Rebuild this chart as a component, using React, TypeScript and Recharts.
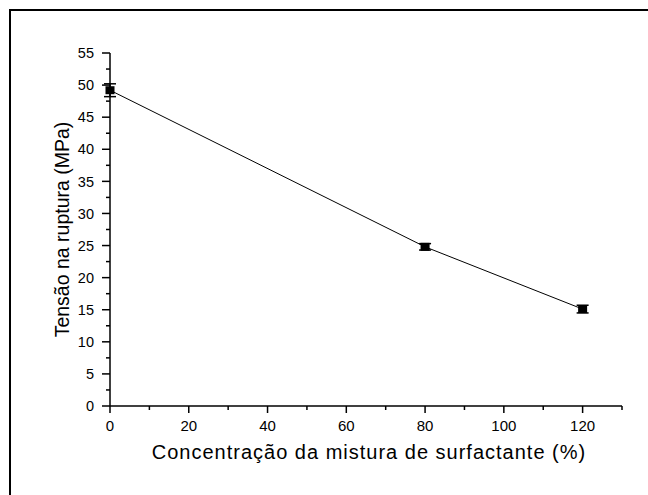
import {
  ComposedChart,
  Line,
  XAxis,
  YAxis,
  ErrorBar,
} from "recharts";

const concentration = [0, 80, 120];
const tension = [49.2, 24.8, 15.1];
const tensionErr = [1.0, 0.5, 0.6];

const xTicks = [0, 10, 20, 30, 40, 50, 60, 70, 80, 90, 100, 110, 120, 130];
const xLabelTicks = [0, 20, 40, 60, 80, 100, 120];
const yTicks = [
  0, 2.5, 5, 7.5, 10, 12.5, 15, 17.5, 20, 22.5, 25, 27.5, 30, 32.5, 35, 37.5,
  40, 42.5, 45, 47.5, 50, 52.5, 55,
];
const yLabelTicks = [0, 5, 10, 15, 20, 25, 30, 35, 40, 45, 50, 55];

const xTitle = "Concentração da mistura de surfactante (%)";
const yTitle = "Tensão na ruptura (MPa)";

const data = concentration.map((x, i) => ({
  x,
  y: tension[i],
  err: tensionErr[i],
}));

const font = '"Liberation Sans", Arial, sans-serif';

const XTick = (props: any) => {
  const { x, y, payload } = props;
  const major = xLabelTicks.includes(payload.value);
  return (
    <g>
      <line x1={x} x2={x} y1={y} y2={y + (major ? 7 : 4)} stroke="#000" strokeWidth={1.5} />
      {major && (
        <text x={x} y={y + 24.5} textAnchor="middle" fontSize={15} fontFamily={font} fill="#000">
          {payload.value}
        </text>
      )}
    </g>
  );
};

const YTick = (props: any) => {
  const { x, y, payload } = props;
  const major = yLabelTicks.includes(payload.value);
  return (
    <g>
      <line x1={x - (major ? 8 : 4)} x2={x} y1={y} y2={y} stroke="#000" strokeWidth={1.5} />
      {major && (
        <text x={x - 16} y={y} dy="0.36em" textAnchor="end" fontSize={14.5} fontFamily={font} fill="#000">
          {payload.value}
        </text>
      )}
    </g>
  );
};

const SquareDot = (props: any) => {
  const { cx, cy } = props;
  return <rect x={cx - 4.5} y={cy - 4} width={9} height={8} fill="#000" />;
};

export default function App() {
  return (
    <div
      style={{
        position: "absolute",
        left: 0,
        top: 0,
        width: 648,
        height: 495,
        overflow: "hidden",
        background: "#fff",
      }}
    >
      <div
        style={{
          position: "absolute",
          left: 9,
          top: 9,
          width: 1000,
          height: 1000,
          borderLeft: "2px solid #000",
          borderTop: "2px solid #000",
        }}
      />
      <div style={{ position: "absolute", left: 0, top: 0 }}>
        <ComposedChart
          width={648}
          height={495}
          data={data}
          margin={{ top: 53, right: 26, bottom: 48, left: 50 }}
        >
          <XAxis
            dataKey="x"
            type="number"
            domain={[0, 130]}
            ticks={xTicks}
            interval={0}
            tickSize={0}
            tickMargin={0}
            tick={<XTick />}
            axisLine={{ stroke: "#000", strokeWidth: 1.5 }}
            tickLine={false}
            height={41}
            label={(p: any) => {
              const vb = p.viewBox;
              return (
                <text
                  x={vb.x + vb.width / 2 + 3}
                  y={459}
                  textAnchor="middle"
                  fontSize={20}
                  letterSpacing={1}
                  fontFamily={font}
                  fill="#000"
                >
                  {xTitle}
                </text>
              );
            }}
          />
          <YAxis
            type="number"
            domain={[0, 55]}
            ticks={yTicks}
            interval={0}
            tickSize={0}
            tickMargin={0}
            tick={<YTick />}
            axisLine={{ stroke: "#000", strokeWidth: 1.5 }}
            tickLine={false}
            width={60}
            label={(p: any) => {
              const vb = p.viewBox;
              const cy = vb.y + vb.height / 2;
              return (
                <text
                  x={62}
                  y={cy}
                  transform={`rotate(-90, 62, ${cy})`}
                  textAnchor="middle"
                  dominantBaseline="central"
                  fontSize={19.5}
                  fontFamily={font}
                  fill="#000"
                >
                  {yTitle}
                </text>
              );
            }}
          />
          <Line
            type="linear"
            dataKey="y"
            stroke="#000"
            strokeWidth={1}
            dot={<SquareDot />}
            activeDot={false}
            isAnimationActive={false}
          >
            <ErrorBar dataKey="err" width={6} stroke="#000" strokeWidth={1.5} direction="y" />
          </Line>
        </ComposedChart>
      </div>
    </div>
  );
}
